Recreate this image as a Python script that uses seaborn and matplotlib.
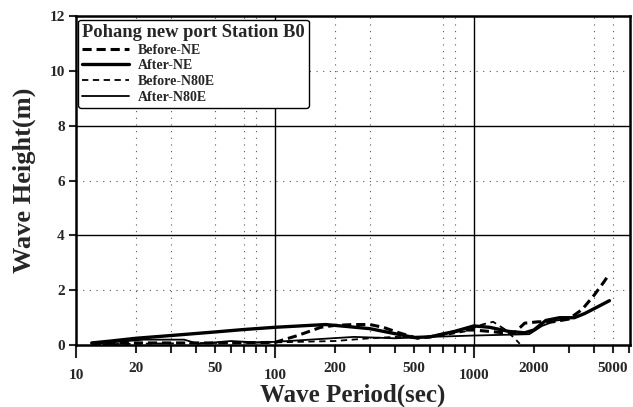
import numpy as np
import pandas as pd
import matplotlib
matplotlib.use("Agg")
import matplotlib.pyplot as plt
import seaborn as sns
from matplotlib.ticker import FixedLocator, FixedFormatter

# ---- data ----
after_ne_t = [12, 15, 20, 30, 50, 70, 100, 150, 180, 230, 300, 400, 500, 600, 800, 1000, 1200, 1500, 1800, 2000, 2300, 2700, 3200, 3600, 4200, 4800]
after_ne_h = [0.08, 0.15, 0.25, 0.35, 0.48, 0.57, 0.65, 0.72, 0.75, 0.68, 0.6, 0.42, 0.28, 0.3, 0.5, 0.7, 0.65, 0.5, 0.45, 0.55, 0.9, 1.0, 1.0, 1.15, 1.4, 1.62]

before_ne_t = [12, 20, 50, 100, 130, 170, 200, 250, 300, 350, 420, 520, 600, 700, 880, 1000, 1200, 1400, 1600, 1800, 2100, 2500, 3000, 3500, 4000, 4500, 4800]
before_ne_h = [0.05, 0.08, 0.08, 0.1, 0.35, 0.65, 0.72, 0.75, 0.75, 0.65, 0.45, 0.25, 0.3, 0.4, 0.55, 0.55, 0.5, 0.45, 0.45, 0.8, 0.85, 0.85, 0.95, 1.3, 1.8, 2.3, 2.6]

before_n80e_t = [12, 20, 50, 100, 200, 300, 400, 500, 700, 900, 1100, 1250, 1450, 1650, 1700]
before_n80e_h = [0.03, 0.05, 0.08, 0.1, 0.15, 0.25, 0.3, 0.28, 0.35, 0.5, 0.75, 0.85, 0.55, 0.15, 0.05]

after_n80e_t = [12, 15, 22, 35, 41, 50, 60, 80, 100, 150, 250, 400, 600, 1000, 1500, 1900, 2200, 2600, 3000]
after_n80e_h = [0.05, 0.1, 0.2, 0.2, 0.05, 0.1, 0.15, 0.1, 0.12, 0.2, 0.3, 0.25, 0.3, 0.35, 0.38, 0.4, 0.7, 0.9, 0.95]

series_names = ["Before-NE", "After-NE", "Before-N80E", "After-N80E"]
legend_title = "Pohang new port Station B0"
x_label = "Wave Period(sec)"
y_label = "Wave Height(m)"
x_major = [10, 100, 1000]
x_minor_labeled = [20, 50, 200, 500, 2000, 5000]
y_ticks = [0, 2, 4, 6, 8, 10, 12]

# ---- build long table ----
frames = []
for name, t, h in [("Before-NE", before_ne_t, before_ne_h),
                   ("After-NE", after_ne_t, after_ne_h),
                   ("Before-N80E", before_n80e_t, before_n80e_h),
                   ("After-N80E", after_n80e_t, after_n80e_h)]:
    frames.append(pd.DataFrame({"period": t, "height": h, "series": name}))
df = pd.concat(frames, ignore_index=True)

sns.set_theme(style="white")
plt.rcParams["font.family"] = ["Liberation Serif", "DejaVu Serif"]
plt.rcParams["font.weight"] = "bold"

fig = plt.figure(figsize=(6.33, 4.07), dpi=100)
ax = fig.add_axes([0.12, 0.152, 0.875, 0.809])

styles = {
    "Before-NE": dict(lw=2.2, ls=(0, (3.0, 1.6))),
    "After-NE": dict(lw=2.4, ls="-"),
    "Before-N80E": dict(lw=1.3, ls=(0, (3.5, 2.5))),
    "After-N80E": dict(lw=1.3, ls="-"),
}
for name in series_names:
    sub = df[df["series"] == name]
    sns.lineplot(data=sub, x="period", y="height", ax=ax, color="black",
                 label=name, linewidth=styles[name]["lw"],
                 linestyle=styles[name]["ls"], sort=False)

ax.set_xscale("log")
ax.set_xlim(10, 6080)
ax.set_ylim(0, 12)

# gridlines
for v in [100, 1000]:
    ax.axvline(v, color="black", lw=1.0, zorder=0.5)
for v in [4, 8]:
    ax.axhline(v, color="black", lw=1.0, zorder=0.5)
for v in [2, 6, 10]:
    ax.axhline(v, color="#555555", lw=0.8, ls=(0, (1, 5)), zorder=0.5)
for v in [20, 30, 50, 70, 80, 200, 300, 700, 800, 4000, 5000]:
    ax.axvline(v, color="#555555", lw=0.8, ls=(0, (1, 5)), zorder=0.5)

# ticks
minor_all = [m * d for d in [10, 100, 1000] for m in range(2, 10) if m * d <= 6000]
ax.xaxis.set_major_locator(FixedLocator(x_major))
ax.xaxis.set_major_formatter(FixedFormatter([str(v) for v in x_major]))
ax.xaxis.set_minor_locator(FixedLocator(minor_all))
ax.xaxis.set_minor_formatter(FixedFormatter([str(v) if v in x_minor_labeled else "" for v in minor_all]))
ax.set_yticks(y_ticks)
ax.set_yticklabels([str(v) for v in y_ticks])

ax.tick_params(axis="x", which="major", direction="out", length=9, width=1.5, pad=8.5,
               labelsize=11, bottom=True)
ax.tick_params(axis="x", which="minor", direction="out", length=6, width=1.5, pad=6.0,
               labelsize=11, bottom=True)
ax.tick_params(axis="y", which="major", direction="out", length=5, width=1.5, pad=3,
               labelsize=11, left=True)
for lab in ax.get_xticklabels(which="both") + ax.get_yticklabels():
    lab.set_fontweight("bold")

for s in ax.spines.values():
    s.set_color("black")
    s.set_linewidth(1.8)

ax.set_xlabel(x_label, fontsize=18, fontweight="bold")
ax.xaxis.set_label_coords(0.5, -0.118)
ax.set_ylabel(y_label, fontsize=19, fontweight="bold", labelpad=10)

leg = ax.legend(title=legend_title, loc="upper left", bbox_to_anchor=(0.0, 0.995),
                frameon=True, fancybox=True, handlelength=3.4, fontsize=10,
                title_fontsize=13.3, borderaxespad=0.15, labelspacing=0.2,
                handletextpad=0.6, borderpad=0.3, alignment="left")
leg.get_frame().set_edgecolor("black")
leg.get_frame().set_linewidth(1.0)
leg.get_frame().set_alpha(1)
leg.get_title().set_fontweight("bold")
for t in leg.get_texts():
    t.set_fontweight("bold")

fig.savefig("out.png", dpi=100)
